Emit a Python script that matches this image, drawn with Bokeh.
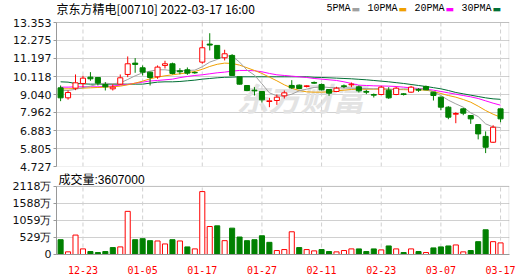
from bokeh.plotting import figure
from bokeh.layouts import column
from bokeh.models import FixedTicker, Label, Range1d, NumeralTickFormatter, BoxAnnotation
from bokeh.embed import file_html
from bokeh.resources import INLINE

# ---------------- data ----------------
dates = ["12-20", "12-21", "12-22", "12-23", "12-24", "12-28", "12-29", "12-30", "12-31",
         "01-03", "01-04", "01-05", "01-06", "01-07", "01-10", "01-11", "01-12", "01-13", "01-14",
         "01-17", "01-18", "01-19", "01-20", "01-21", "01-24", "01-25", "01-26", "01-27", "01-28", "01-31",
         "02-04", "02-07", "02-08", "02-09", "02-10", "02-11", "02-14", "02-15", "02-16", "02-17", "02-18",
         "02-21", "02-22", "02-23", "02-24", "02-25", "02-28", "03-01", "03-02", "03-03", "03-04",
         "03-07", "03-08", "03-09", "03-10", "03-11", "03-14", "03-15", "03-16", "03-17"]

open_ = [9.44, 8.84, 9.42, 9.70, 10.08, 10.06, 9.64, 9.38, 9.66, 10.24,
         10.92, 10.64, 10.38, 10.10, 10.78, 10.88, 10.46, 10.52, 10.36, 10.98,
         12.06, 11.98, 11.24, 11.38, 10.10, 9.58, 9.30, 9.22, 8.62, 8.68,
         8.96, 9.58, 9.60, 9.52, 9.76, 9.64, 9.34, 9.22, 9.56, 9.62,
         9.50, 9.22, 9.04, 9.04, 9.30, 9.04, 9.08, 9.18, 9.34, 9.52,
         9.18, 8.88, 8.28, 7.86, 8.18, 7.78, 7.24, 6.53, 6.18, 8.18]
high = [9.58, 9.28, 10.24, 10.16, 10.38, 10.08, 9.78, 9.66, 10.24, 11.32,
        11.22, 10.78, 10.40, 10.78, 11.06, 10.95, 10.62, 10.66, 10.42, 12.28,
        12.71, 11.98, 11.72, 11.46, 10.10, 9.58, 9.48, 9.22, 8.84, 9.04,
        9.28, 9.90, 9.64, 9.60, 9.82, 9.70, 9.34, 9.50, 9.64, 9.76,
        9.58, 9.32, 9.10, 9.56, 9.48, 9.50, 9.12, 9.56, 9.42, 9.58,
        9.18, 8.92, 8.34, 7.98, 8.24, 7.78, 7.24, 6.83, 7.20, 8.18]
low = [8.64, 8.73, 9.30, 9.46, 9.86, 9.58, 9.28, 9.28, 9.62, 10.08,
       10.34, 10.18, 9.58, 9.98, 10.60, 10.24, 10.25, 10.22, 10.28, 10.88,
       11.68, 11.18, 11.08, 10.18, 9.64, 9.24, 8.98, 8.56, 8.28, 8.42,
       8.80, 9.38, 9.36, 9.46, 9.68, 9.28, 8.96, 9.18, 9.42, 9.48,
       9.16, 9.06, 8.86, 9.00, 8.78, 9.00, 8.98, 9.14, 9.20, 9.30,
       8.68, 8.10, 7.56, 7.32, 7.80, 7.28, 6.35, 5.53, 6.14, 7.38]
close = [8.84, 9.16, 9.74, 10.02, 9.98, 9.72, 9.50, 9.48, 10.04, 10.88,
         10.84, 10.38, 10.06, 10.68, 10.88, 10.30, 10.40, 10.32, 10.34, 11.84,
         12.00, 11.20, 11.48, 10.18, 9.66, 9.28, 9.26, 8.72, 8.66, 8.88,
         9.14, 9.44, 9.40, 9.56, 9.72, 9.32, 9.12, 9.42, 9.52, 9.66,
         9.26, 9.18, 9.00, 9.48, 8.84, 9.42, 9.04, 9.48, 9.30, 9.32,
         8.98, 8.28, 7.68, 7.90, 7.92, 7.58, 6.68, 5.88, 7.08, 7.58]

ma5 = [9.30, 9.28, 9.35, 9.45, 9.54, 9.66, 9.72, 9.68, 9.74, 9.94,
       10.16, 10.34, 10.44, 10.52, 10.52, 10.46, 10.46, 10.48, 10.50, 10.70,
       10.98, 11.14, 11.36, 11.34, 10.98, 10.50, 10.20, 9.68, 9.14, 8.96,
       8.94, 9.06, 9.26, 9.36, 9.46, 9.50, 9.46, 9.44, 9.44, 9.42,
       9.40, 9.40, 9.38, 9.40, 9.36, 9.34, 9.38, 9.36, 9.38, 9.36,
       9.20, 8.98, 8.70, 8.48, 8.28, 7.94, 7.72, 7.28, 7.10, 7.06]
ma10 = [9.38, 9.38, 9.40, 9.42, 9.44, 9.46, 9.48, 9.50, 9.54, 9.62,
        9.72, 9.84, 9.98, 10.08, 10.16, 10.22, 10.28, 10.34, 10.42, 10.55,
        10.72, 10.85, 10.92, 10.90, 10.80, 10.64, 10.48, 10.30, 10.08, 9.86,
        9.62, 9.42, 9.28, 9.20, 9.18, 9.18, 9.20, 9.26, 9.30, 9.34,
        9.36, 9.36, 9.36, 9.36, 9.35, 9.34, 9.33, 9.32, 9.32, 9.30,
        9.22, 9.10, 8.98, 8.88, 8.74, 8.58, 8.34, 8.08, 7.86, 7.68]
ma20 = [9.48, 9.48, 9.50, 9.50, 9.50, 9.50, 9.52, 9.55, 9.60, 9.64,
        9.72, 9.78, 9.85, 9.88, 9.92, 9.96, 10.05, 10.12, 10.18, 10.22,
        10.28, 10.34, 10.38, 10.44, 10.48, 10.48, 10.46, 10.40, 10.30, 10.22,
        10.18, 10.14, 10.10, 10.06, 10.00, 9.96, 9.92, 9.88, 9.80, 9.70,
        9.60, 9.58, 9.56, 9.55, 9.54, 9.52, 9.48, 9.44, 9.40, 9.36,
        9.30, 9.22, 9.14, 9.06, 8.98, 8.90, 8.80, 8.66, 8.52, 8.40]
ma30 = [9.80, 9.78, 9.70, 9.68, 9.66, 9.66, 9.66, 9.66, 9.66, 9.66,
        9.66, 9.66, 9.72, 9.78, 9.80, 9.80, 9.82, 9.86, 9.90, 9.96,
        10.00, 10.04, 10.07, 10.08, 10.10, 10.10, 10.10, 10.10, 10.10, 10.10,
        10.10, 10.10, 10.10, 10.10, 10.07, 10.06, 10.04, 10.02, 10.00, 9.98,
        9.95, 9.92, 9.88, 9.84, 9.80, 9.75, 9.70, 9.64, 9.58, 9.52,
        9.45, 9.38, 9.28, 9.16, 9.08, 9.00, 8.92, 8.84, 8.78, 8.75]

# volume in 万 shares, and its colour (R = up vs previous close, G = down)
volume = [460, 83, 604, 174, 92, 61, 92, 215, 236, 1341,
          460, 491, 430, 420, 328, 460, 420, 236, 174, 1955,
          870, 890, 430, 819, 543, 430, 460, 583, 378, 123,
          153, 706, 215, 153, 113, 153, 92, 82, 123, 174,
          174, 92, 174, 143, 266, 174, 61, 174, 92, 61,
          205, 236, 266, 297, 82, 123, 399, 768, 399, 360.7]
vol_dir = ["G", "R", "R", "R", "G", "G", "G", "G", "R", "R",
           "G", "G", "G", "R", "R", "G", "R", "G", "R", "R",
           "R", "G", "R", "G", "G", "G", "G", "G", "G", "R",
           "R", "R", "G", "R", "R", "G", "G", "R", "R", "R",
           "G", "G", "G", "R", "G", "R", "G", "R", "G", "R",
           "G", "G", "G", "R", "R", "G", "G", "G", "R", "R"]

price_ticks = [4.727, 5.805, 6.883, 7.962, 9.040, 10.118, 11.197, 12.275, 13.353]
vol_ticks = [0, 529, 1059, 1588, 2118]
vol_tick_labels = ["0", "529万", "1059万", "1588万", "2118万"]
label_every = 8
label_start = 3

title_text = "京东方精电[00710] 2022-03-17 16:00"
vol_title = "成交量:3607000"
ma_names = ["5PMA", "10PMA", "20PMA", "30PMA"]
ma_colors = ["#a0a0a0", "#f0a000", "#ff00ff", "#006f35"]

# ---------------- style / layout constants ----------------
RED = "#ff0000"
GREEN = "#008000"
GRID = "#d0d0d0"
FRAME = "#999999"
W = 530
LEFT, RIGHT = 56, 21
HEADER_PX, PRICE_PX, PRICE_BOTTOM = 22, 144, 7   # header band, price panel, gap below (px)
VHEAD_PX, VOL_PX, VOL_BOTTOM = 13, 69, 21        # band above volume panel, volume panel, axis (px)

idx = list(range(len(dates)))
label_idx = list(range(label_start, len(dates), label_every))

x_start, x_end = -0.55, 60.2
x_range = Range1d(x_start, x_end)
px_per_x = (W - LEFT - RIGHT) / (x_end - x_start)
half_px = 0.5 / px_per_x

p_lo, p_hi = price_ticks[0], price_ticks[-1]
p_top = p_hi + HEADER_PX * (p_hi - p_lo) / PRICE_PX
v_lo, v_hi = vol_ticks[0], vol_ticks[-1]
v_top = v_hi * (VOL_PX + VHEAD_PX) / VOL_PX


def style_yaxis(ax, ticks, bounds):
    ax.ticker = FixedTicker(ticks=ticks)
    ax.bounds = bounds
    ax.axis_line_color = FRAME
    ax.major_tick_line_color = FRAME
    ax.major_tick_out = 3
    ax.major_tick_in = 0
    ax.minor_tick_line_color = None
    ax.major_label_standoff = 2
    ax.major_label_text_font = "DejaVu Sans"
    ax.major_label_text_font_size = "11px"
    ax.major_label_text_color = "#111111"


# ---------------- price panel ----------------
p = figure(width=W, height=HEADER_PX + PRICE_PX + PRICE_BOTTOM, x_range=x_range,
           y_range=Range1d(p_lo, p_top), output_backend="svg", toolbar_location=None,
           min_border_left=LEFT, min_border_right=RIGHT, min_border_top=0,
           min_border_bottom=PRICE_BOTTOM)
p.xaxis.visible = False
p.outline_line_color = None
p.background_fill_color = "white"
style_yaxis(p.yaxis[0], price_ticks, (p_lo, p_hi))
p.yaxis.formatter = NumeralTickFormatter(format="0.000")

p.ygrid.ticker = FixedTicker(ticks=price_ticks)
p.ygrid.grid_line_color = GRID
p.xgrid.visible = False
p.segment(x0=label_idx, y0=[p_lo] * len(label_idx), x1=label_idx, y1=[p_hi] * len(label_idx),
          line_color=GRID, line_dash="4 3", line_width=1)

wm = Label(x=244, y=70, x_units="screen", y_units="screen", text="东方财富",
           text_font="Noto Sans CJK SC", text_font_size="32px", text_font_style="bold italic",
           text_color="#e3e3e3", text_align="center", text_baseline="middle", level="underlay")
p.add_layout(wm)

up = [c >= o for o, c in zip(open_, close)]
ccol = [RED if u else GREEN for u in up]
cfill = ["white" if u else GREEN for u in up]
btop = [max(o, c) for o, c in zip(open_, close)]
bbot = [min(o, c) for o, c in zip(open_, close)]

for ma, col in zip([ma30, ma20, ma10, ma5], ma_colors[::-1]):
    p.line(idx, ma, line_color=col, line_width=1)

p.segment(x0=idx, y0=high, x1=idx, y1=low, line_color=ccol, line_width=1)
p.vbar(x=idx, top=btop, bottom=bbot, width=0.68, fill_color=cfill, line_color=ccol, line_width=1)

p.add_layout(BoxAnnotation(left=None, right=x_end - half_px, bottom=p_lo, top=p_hi,
                           fill_color=None, line_color=FRAME, line_width=1))

head_y = PRICE_PX + HEADER_PX - 8
p.add_layout(Label(x=0, y=head_y, x_units="screen", y_units="screen", text=title_text,
                   text_font="Noto Sans CJK SC", text_font_size="12px", text_color="#000000",
                   text_align="left", text_baseline="middle"))
lx = 270
for name, col in zip(ma_names, ma_colors):
    p.add_layout(Label(x=lx, y=head_y, x_units="screen", y_units="screen", text=name,
                       text_font="Liberation Mono", text_font_size="10px", text_color="#000000",
                       text_align="left", text_baseline="middle"))
    sx = lx + 6 * len(name) + 1
    p.add_layout(Label(x=sx, y=head_y, x_units="screen", y_units="screen", text="▬",
                       text_font="DejaVu Sans", text_font_size="9px", text_color=col,
                       text_align="left", text_baseline="middle"))
    lx = sx + 16

# ---------------- volume panel ----------------
v = figure(width=W, height=VHEAD_PX + VOL_PX + VOL_BOTTOM, x_range=x_range,
           y_range=Range1d(v_lo, v_top), output_backend="svg", toolbar_location=None,
           min_border_left=LEFT, min_border_right=RIGHT, min_border_top=0,
           min_border_bottom=VOL_BOTTOM)
v.outline_line_color = None
style_yaxis(v.yaxis[0], vol_ticks, (v_lo, v_hi))
v.yaxis.major_label_overrides = {t: s for t, s in zip(vol_ticks, vol_tick_labels)}

v.xaxis.ticker = FixedTicker(ticks=label_idx)
v.xaxis.major_label_overrides = {i: dates[i] for i in label_idx}
v.xaxis.axis_line_color = FRAME
v.xaxis.major_tick_line_color = None
v.xaxis.minor_tick_line_color = None
v.xaxis.major_label_standoff = 5
v.xaxis.major_label_text_font = "DejaVu Sans Mono"
v.xaxis.major_label_text_font_size = "10px"
v.xaxis.major_label_text_color = RED

v.ygrid.ticker = FixedTicker(ticks=vol_ticks)
v.ygrid.grid_line_color = GRID
v.xgrid.visible = False
v.segment(x0=label_idx, y0=[v_lo] * len(label_idx), x1=label_idx, y1=[v_hi] * len(label_idx),
          line_color=GRID, line_dash="4 3", line_width=1)

vcol = [RED if d == "R" else GREEN for d in vol_dir]
vfill = ["white" if d == "R" else GREEN for d in vol_dir]
v.vbar(x=idx, top=volume, bottom=0, width=0.68, fill_color=vfill, line_color=vcol, line_width=1)

v.add_layout(BoxAnnotation(left=None, right=x_end - half_px, bottom=v_lo, top=v_hi,
                           fill_color=None, line_color=FRAME, line_width=1))

v.add_layout(Label(x=2, y=VOL_PX + 6, x_units="screen", y_units="screen", text=vol_title,
                   text_font="'Liberation Sans', 'Noto Sans CJK SC'", text_font_size="12px",
                   text_color="#000000", text_align="left", text_baseline="middle"))

layout = column(p, v, spacing=0)
open("out.html", "w").write(file_html(layout, INLINE))
